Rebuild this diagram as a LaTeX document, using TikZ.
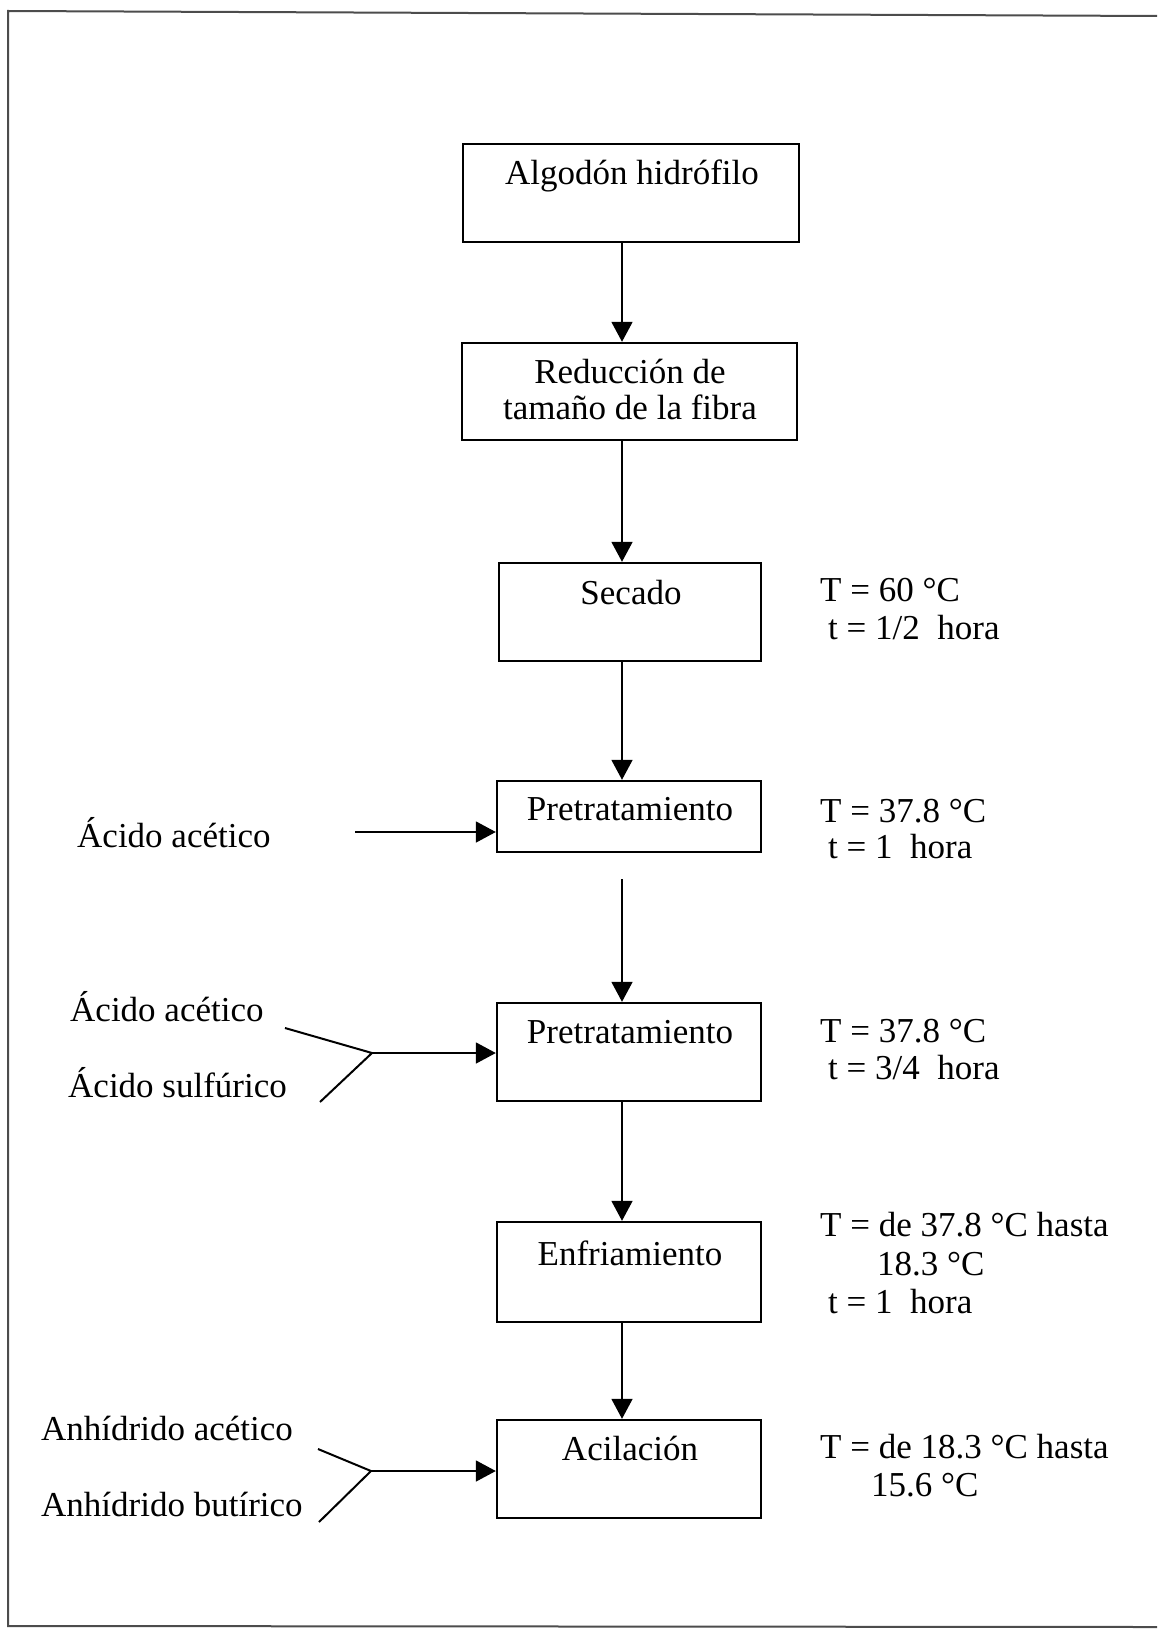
\documentclass[tikz,border=0pt]{standalone}
\usepackage{fontspec}
\setmainfont{Liberation Serif}
\usetikzlibrary{arrows.meta}

\tikzset{
  stage/.style={draw=black, line width=2.4pt, rectangle, inner sep=0pt},
  flow/.style={draw=black, line width=1.8pt, -{Triangle[length=20pt,width=21pt]}},
  feed/.style={draw=black, line width=2pt},
  txt/.style={inner sep=0pt, anchor=base, font=\fontsize{35}{40}\selectfont},
  note/.style={inner sep=0pt, anchor=base west, font=\fontsize{35}{40}\selectfont},
  frame/.style={draw=black!70, line width=2pt}
}

\begin{document}
\begin{tikzpicture}[x=1pt, y=-1pt]
  \useasboundingbox (0,0) rectangle (1157,1629);

  % page frame (top, left and bottom rules)
  \draw[frame] (1157,16) -- (8,11) -- (8,1626) -- (1157,1627);

  % process stages
  \node[stage, minimum width=336pt, minimum height=98pt]  (b1) at (631,193) {};
  \node[stage, minimum width=335pt, minimum height=97pt]  (b2) at (629.5,391.5) {};
  \node[stage, minimum width=262pt, minimum height=98pt]  (b3) at (630,612) {};
  \node[stage, minimum width=264pt, minimum height=71pt]  (b4) at (629,816.5) {};
  \node[stage, minimum width=264pt, minimum height=98pt]  (b5) at (629,1052) {};
  \node[stage, minimum width=264pt, minimum height=100pt] (b6) at (629,1272) {};
  \node[stage, minimum width=264pt, minimum height=98pt]  (b7) at (629,1469) {};

  % stage titles
  \node[txt] (t1)  at (632,185) {Algodón hidrófilo};
  \node[txt] (t2a) at (630,383) {Reducción de};
  \node[txt] (t2b) at (630,419) {tamaño de la fibra};
  \node[txt] (t3)  at (631,604) {Secado};
  \node[txt] (t4)  at (630,820) {Pretratamiento};
  \node[txt] (t5)  at (630,1043) {Pretratamiento};
  \node[txt] (t6)  at (630,1265) {Enfriamiento};
  \node[txt] (t7)  at (630,1460) {Acilación};

  % operating conditions
  \node[note] (c3a) at (820,601)  {T = 60 °C};
  \node[note] (c3b) at (828,639)  {t = 1/2\ \ hora};
  \node[note] (c4a) at (820,822)  {T = 37.8 °C};
  \node[note] (c4b) at (828,858)  {t = 1\ \ hora};
  \node[note] (c5a) at (820,1042) {T = 37.8 °C};
  \node[note] (c5b) at (828,1079) {t = 3/4\ \ hora};
  \node[note] (c6a) at (820,1236) {T = de 37.8 °C hasta};
  \node[note] (c6b) at (877,1275) {18.3 °C};
  \node[note] (c6c) at (828,1313) {t = 1\ \ hora};
  \node[note] (c7a) at (820,1458) {T = de 18.3 °C hasta};
  \node[note] (c7b) at (871,1496) {15.6 °C};

  % reagents
  \node[note] (r4)  at (77,847)   {Ácido acético};
  \node[note] (r5a) at (70,1021)  {Ácido acético};
  \node[note] (r5b) at (68,1097)  {Ácido sulfúrico};
  \node[note] (r7a) at (41,1440)  {Anhídrido acético};
  \node[note] (r7b) at (41,1516)  {Anhídrido butírico};

  % main flow line
  \coordinate (spine) at (622,0);
  \coordinate (gap)   at (622,879);
  \draw[flow] (b1.south -| spine) -- (b2.north -| spine);
  \draw[flow] (b2.south -| spine) -- (b3.north -| spine);
  \draw[flow] (b3.south -| spine) -- (b4.north -| spine);
  \draw[flow] (gap) -- (b5.north -| spine);
  \draw[flow] (b5.south -| spine) -- (b6.north -| spine);
  \draw[flow] (b6.south -| spine) -- (b7.north -| spine);

  % acetic acid feed to the first pretreatment
  \coordinate (f4) at (355,832);
  \draw[flow] (f4) -- (f4 -| b4.west);

  % merged feeds to the second pretreatment
  \coordinate (y5)  at (372,1053);
  \coordinate (y5a) at (285,1028);
  \coordinate (y5b) at (320,1102);
  \draw[feed] (y5a) -- (y5) -- (y5b);
  \draw[flow] (y5) -- (y5 -| b5.west);

  % merged feeds to acylation
  \coordinate (y7)  at (371,1471);
  \coordinate (y7a) at (318,1449);
  \coordinate (y7b) at (319,1522);
  \draw[feed] (y7a) -- (y7) -- (y7b);
  \draw[flow] (y7) -- (y7 -| b7.west);
\end{tikzpicture}
\end{document}
